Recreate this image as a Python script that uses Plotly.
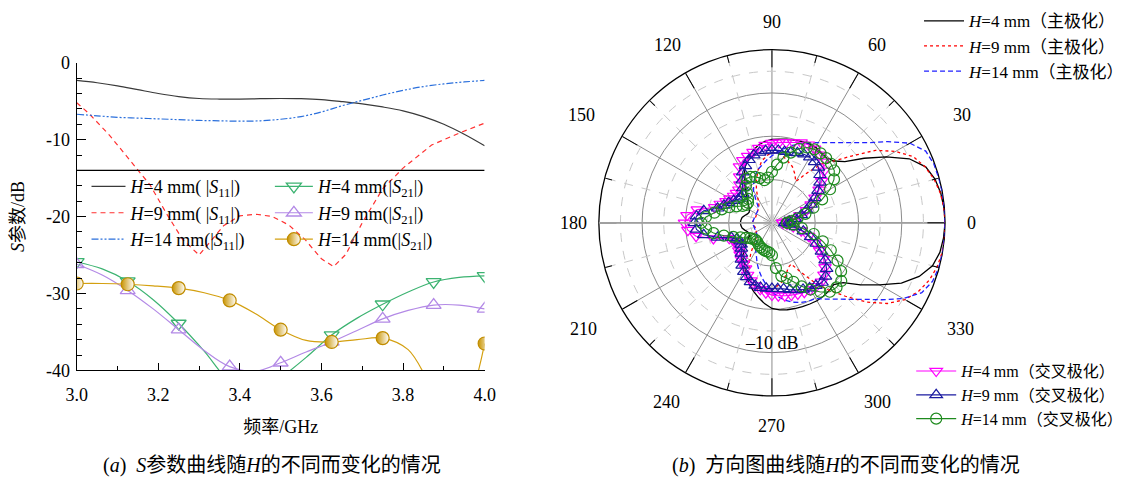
import math
import plotly.graph_objects as go

# ---------------- (a) S-parameter data ----------------
freq = [3.00, 3.05, 3.10, 3.15, 3.20, 3.25, 3.30, 3.35, 3.40, 3.45, 3.50,
        3.55, 3.60, 3.65, 3.70, 3.75, 3.80, 3.85, 3.90, 3.95, 4.00]
s11_h4 = [-2.3, -2.6, -3.0, -3.5, -4.0, -4.4, -4.65, -4.72, -4.72, -4.68, -4.65,
          -4.68, -4.8, -5.05, -5.35, -5.75, -6.25, -7.0, -8.0, -9.3, -10.8]
s11_h14 = [-6.7, -6.9, -7.1, -7.2, -7.3, -7.4, -7.5, -7.55, -7.6, -7.55, -7.35,
           -7.0, -6.4, -5.6, -4.9, -4.2, -3.6, -3.1, -2.75, -2.5, -2.3]
freq_h9 = [3.00, 3.03, 3.08, 3.13, 3.18, 3.22, 3.26, 3.30, 3.32, 3.36, 3.40, 3.44,
           3.48, 3.52, 3.56, 3.60, 3.63, 3.66, 3.70, 3.75, 3.80, 3.87, 3.94, 4.00]
s11_h9 = [-5.2, -6.6, -9.4, -12.6, -15.9, -19.6, -23.0, -25.0, -23.7, -21.2, -19.9, -19.7,
          -20.0, -21.1, -23.0, -25.5, -26.5, -24.9, -20.8, -16.4, -13.7, -10.7, -9.1, -7.85]

freq_s21 = [3.0, 3.0625, 3.125, 3.1875, 3.25, 3.3125, 3.375, 3.4375, 3.5,
            3.5625, 3.625, 3.6875, 3.75, 3.8125, 3.875, 3.9375, 4.0]
s21_h4 = [-25.9, -26.8, -28.4, -30.8, -33.9, -37.5, -41.5, -43.5, -41.0,
          -38.3, -35.4, -33.2, -31.4, -29.8, -28.5, -27.9, -27.7]
s21_h9 = [-26.2, -27.6, -29.6, -32.0, -34.7, -37.4, -39.5, -40.1, -39.0,
          -37.6, -36.3, -34.8, -33.3, -32.2, -31.5, -31.5, -32.0]
s21_h14 = [-28.7, -28.7, -28.8, -29.0, -29.3, -29.9, -30.9, -32.6, -34.7,
           -36.1, -36.3, -36.0, -35.8, -37.3, -42.5, -46.0, -36.5]

x_ticks = [3.0, 3.2, 3.4, 3.6, 3.8, 4.0]
x_ticklabels = ["3.0", "3.2", "3.4", "3.6", "3.8", "4.0"]
y_ticks = [0, -10, -20, -30, -40]
y_ticklabels = ["0", "-10", "-20", "-30", "-40"]
ref_level = -14

# ---------------- (b) radiation pattern data ----------------
angles = [0, 5, 10, 15, 20, 25, 30, 35, 40, 45, 50, 55, 60, 65, 70, 75, 80, 85,
          90, 95, 100, 105, 110, 115, 120, 125, 130, 135, 140, 145, 150, 155, 160, 165, 170, 175,
          180, 185, 190, 195, 200, 205, 210, 215, 220, 225, 230, 235, 240, 245, 250, 255, 260, 265,
          270, 275, 280, 285, 290, 295, 300, 305, 310, 315, 320, 325, 330, 335, 340, 345, 350, 355]

main_h4 = [0, -0.1, -0.4, -1.0, -2.2, -5.0, -9.5, -14.0, -18.0, -19.8, -20.4, -20.2, -19.8, -19.8, -20.0, -20.2, -20.4, -20.6,
           -20.7, -21.1, -21.8, -22.8, -24.0, -25.5, -27.2, -29.0, -30.5, -31.8, -32.8, -33.5, -34.0, -34.2, -34.0, -33.5, -33.0, -32.8,
           -32.7, -32.8, -33.0, -33.5, -34.0, -34.2, -34.0, -33.2, -32.0, -30.8, -29.5, -28.8, -27.7, -26.2, -24.8, -23.6, -22.4, -21.2,
           -20.2, -19.8, -19.6, -19.5, -19.4, -19.3, -19.2, -19.3, -19.5, -19.8, -18.5, -15.0, -11.3, -7.0, -3.8, -1.6, -0.6, -0.2]
main_h9 = [0, -0.1, -0.5, -1.2, -2.3, -3.9, -7.0, -10.8, -16.0, -19.8, -22.3, -26.0, -29.0, -27.5, -26.2, -25.4, -24.5, -23.8,
           -23.8, -24.5, -25.8, -27.5, -29.5, -31.5, -33.5, -34.7, -35.3, -35.5, -35.7, -35.8, -35.8, -36.0, -36.0, -36.0, -35.8, -35.6,
           -35.5, -35.6, -35.8, -36.0, -36.0, -36.0, -35.8, -35.6, -35.3, -34.7, -33.5, -31.5, -29.5, -27.5, -25.8, -24.5, -23.8, -23.8,
           -24.5, -25.4, -26.2, -27.5, -29.0, -29.5, -27.0, -23.5, -19.8, -16.0, -11.5, -7.5, -4.5, -2.6, -1.3, -0.5, -0.1, 0]
main_h14 = [0, 0, 0, -0.1, -0.2, -0.8, -3.2, -7.3, -11.2, -13.8, -15.8, -17.4, -18.6, -19.6, -20.5, -21.5, -22.5, -23.5,
            -24.5, -25.5, -26.5, -27.3, -28.5, -30.0, -31.5, -33.5, -35.0, -35.5, -35.7, -35.8, -35.8, -35.8, -35.8, -35.8, -35.7, -35.6,
            -35.5, -35.6, -35.7, -35.8, -35.8, -35.8, -35.8, -35.7, -35.5, -35.0, -34.5, -33.5, -32.5, -31.5, -30.0, -28.5, -27.0, -25.5,
            -24.0, -22.8, -21.8, -21.0, -20.4, -20.0, -19.8, -18.5, -17.0, -15.0, -12.5, -9.0, -5.0, -1.8, -0.5, -0.1, 0, 0]

cross_h4 = [-37.5, -36.5, -35.0, -33.3, -31.5, -30.0, -28.5, -26.7, -25.0, -23.0, -21.6, -20.8, -20.3, -20.1, -20.3, -20.8, -21.1, -21.4,
            -21.6, -22.0, -22.5, -23.1, -23.6, -24.1, -25.0, -27.0, -28.5, -29.2, -29.3, -29.2, -28.8, -28.3, -27.3, -26.3, -22.5, -20.3,
            -19.8, -20.5, -22.2, -26.0, -29.5, -30.2, -30.7, -30.5, -30.0, -29.6, -29.0, -28.5, -27.8, -26.7, -25.8, -25.0, -24.4, -23.8,
            -23.3, -23.1, -22.9, -22.7, -22.5, -22.3, -22.2, -22.1, -22.2, -23.0, -24.0, -25.5, -27.3, -29.0, -31.0, -33.0, -35.0, -36.5]
cross_h9 = [-37.0, -36.0, -34.5, -33.0, -31.5, -30.0, -28.5, -27.0, -25.5, -24.3, -23.3, -22.8, -22.5, -22.5, -22.8, -23.2, -23.3, -23.2,
            -23.2, -23.3, -23.5, -23.8, -24.5, -25.5, -26.5, -28.0, -29.5, -30.5, -30.8, -30.5, -29.8, -29.0, -28.2, -27.0, -24.0, -22.5,
            -22.1, -22.5, -24.0, -27.0, -30.0, -31.0, -31.5, -31.3, -30.8, -30.0, -29.0, -28.0, -27.0, -26.2, -25.5, -25.0, -24.8, -24.8,
            -24.8, -24.7, -24.5, -24.0, -23.5, -23.0, -22.6, -22.3, -22.0, -22.5, -23.5, -25.0, -26.8, -28.7, -30.5, -32.5, -34.5, -36.0]
cross_h14 = [-36.5, -35.5, -34.0, -32.0, -29.8, -27.2, -24.5, -22.5, -21.2, -20.7, -20.5, -20.4, -20.4, -20.8, -21.8, -23.2, -24.7, -26.5,
             -28.2, -29.5, -30.0, -29.3, -28.7, -28.3, -28.2, -29.5, -31.0, -32.2, -32.8, -32.8, -32.2, -31.0, -29.5, -28.0, -26.5, -24.7,
             -23.7, -24.7, -26.3, -28.5, -30.5, -32.0, -33.0, -33.8, -34.2, -34.5, -34.5, -34.3, -34.0, -33.8, -33.6, -33.4, -33.3, -33.1,
             -32.5, -29.5, -27.5, -26.8, -25.5, -23.8, -22.2, -20.5, -19.2, -18.9, -19.1, -20.5, -22.5, -25.0, -27.5, -30.0, -33.0, -35.0]

theta_major = [0, 30, 60, 90, 120, 150, 180, 210, 240, 270, 300, 330]
theta_labels = ["0", "30", "60", "90", "120", "150", "180", "210", "240", "270", "300", "330"]
theta_minor = [15, 45, 75, 105, 135, 165, 195, 225, 255, 285, 315, 345]
r_major = [-30, -20, -10]
r_minor = [-35, -25, -15, -5]
r_range = [-40, 0]

SERIF = "Liberation Serif, Times New Roman, Noto Sans CJK SC"
W, H = 1134, 483
CX, CY, HALF = 776, 222, 180.6   # polar centre (px) and half-size of its domain box
label_radius = [204, 224, 214, 210, 214, 224, 202, 222, 216, 212, 216, 222]   # px from centre


def closed(seq):
    return list(seq) + [seq[0]]


fig = go.Figure()

# ---- S11 ----
fig.add_trace(go.Scatter(x=freq, y=s11_h4, mode="lines", line=dict(color="#3a3a3a", width=1.2, shape="spline"),
                         name="<i>H</i>=4 mm( |<i>S</i><sub>11</sub>|)", legend="legend"))
fig.add_trace(go.Scatter(x=freq_h9, y=s11_h9, mode="lines", line=dict(color="#ff3030", width=1.2, dash="5px,4px"),
                         name="<i>H</i>=9 mm( |<i>S</i><sub>11</sub>|)", legend="legend"))
fig.add_trace(go.Scatter(x=freq, y=s11_h14, mode="lines",
                         line=dict(color="#2a6fdc", width=1.2, dash="7px,2px,2px,2px,2px,2px", shape="spline"),
                         name="<i>H</i>=14 mm(|<i>S</i><sub>11</sub>|)", legend="legend"))

# ---- S21 (markers shown at every other sample) ----
mark_idx = [i for i in range(len(freq_s21)) if i % 2 == 0]
s21_common = dict(mode="lines+markers", selectedpoints=mark_idx,
                  selected=dict(marker=dict(opacity=1)), unselected=dict(marker=dict(opacity=0)),
                  legend="legend2")
fig.add_trace(go.Scatter(x=freq_s21, y=s21_h4, line=dict(color="#3cb371", width=1.2, shape="spline"),
                         marker=dict(symbol="triangle-down-open", size=13, color="#3cb371", line=dict(width=1.3)),
                         name="<i>H</i>=4 mm(|<i>S</i><sub>21</sub>|)", **s21_common))
fig.add_trace(go.Scatter(x=freq_s21, y=s21_h9, line=dict(color="#b389e6", width=1.2, shape="spline"),
                         marker=dict(symbol="triangle-up-open", size=13, color="#b389e6", line=dict(width=1.3)),
                         name="<i>H</i>=9 mm(|<i>S</i><sub>21</sub>|)", **s21_common))
fig.add_trace(go.Scatter(x=freq_s21, y=s21_h14, line=dict(color="#d4a010", width=1.2, shape="spline"),
                         marker=dict(symbol="circle", size=13, color="#c99400",
                                     gradient=dict(type="horizontal", color="#ffffff"),
                                     line=dict(width=1.2, color="#c08c00")),
                         name="<i>H</i>=14 mm(|<i>S</i><sub>21</sub>|)", **s21_common))

# ---- polar base subplot (grid) ----
fig.add_trace(go.Scatterpolar(r=[], theta=[], subplot="polar", showlegend=False, hoverinfo="skip"))

# ---- polar: main polarisation ----
fig.add_trace(go.Scatterpolar(r=closed(main_h4), theta=closed(angles), mode="lines",
                              line=dict(color="#000000", width=1.3), subplot="polar2",
                              name="<i>H</i>=4 mm（主极化）", legend="legend3"))
fig.add_trace(go.Scatterpolar(r=closed(main_h9), theta=closed(angles), mode="lines",
                              line=dict(color="#ff0000", width=1.3, dash="dot"), subplot="polar2",
                              name="<i>H</i>=9 mm（主极化）", legend="legend3"))
fig.add_trace(go.Scatterpolar(r=closed(main_h14), theta=closed(angles), mode="lines",
                              line=dict(color="#2020ff", width=1.3, dash="5px,3px"), subplot="polar2",
                              name="<i>H</i>=14 mm（主极化）", legend="legend3"))
# ---- polar: cross polarisation ----
fig.add_trace(go.Scatterpolar(r=closed(cross_h4), theta=closed(angles), mode="lines+markers",
                              line=dict(color="#ff00ff", width=1.1),
                              marker=dict(symbol="triangle-down-open", size=11, color="#ff00ff", line=dict(width=1.2)),
                              subplot="polar2", name="<i>H</i>=4 mm（交叉极化）", legend="legend4"))
fig.add_trace(go.Scatterpolar(r=closed(cross_h9), theta=closed(angles), mode="lines+markers",
                              line=dict(color="#1a1aa0", width=1.1),
                              marker=dict(symbol="triangle-up-open", size=11, color="#1a1aa0", line=dict(width=1.2)),
                              subplot="polar2", name="<i>H</i>=9 mm（交叉极化）", legend="legend4"))
fig.add_trace(go.Scatterpolar(r=closed(cross_h14), theta=closed(angles), mode="lines+markers",
                              line=dict(color="#1e8a1e", width=1.1),
                              marker=dict(symbol="circle-open", size=11, color="#1e8a1e", line=dict(width=1.2)),
                              subplot="polar2", name="<i>H</i>=14 mm（交叉极化）", legend="legend4"))

# reference line in panel (a)
fig.add_shape(type="line", xref="x", yref="y", x0=freq[0], x1=freq[-1], y0=ref_level, y1=ref_level,
              line=dict(color="black", width=1.3))

pdom_x = [(CX - HALF) / W, (CX + HALF) / W]
pdom_y = [(H - (CY + HALF)) / H, (H - (CY - HALF)) / H]

# angular labels placed further out than plotly's default
ang_annots = []
for th, lab, rl in zip(theta_major, theta_labels, label_radius):
    rad = math.radians(th)
    ang_annots.append(dict(text=lab, x=(CX + rl * math.cos(rad)) / W, y=1 - (CY - rl * math.sin(rad)) / H,
                           xref="paper", yref="paper", showarrow=False, font=dict(size=18),
                           xanchor="center", yanchor="middle"))

fig.update_layout(
    width=W, height=H, margin=dict(l=0, r=0, t=0, b=0),
    paper_bgcolor="white", plot_bgcolor="white",
    font=dict(family=SERIF, size=18, color="black"),
    xaxis=dict(domain=[67 / W, 483 / W], range=[3.0, 4.0], tickvals=x_ticks, ticktext=x_ticklabels,
               showline=True, linecolor="black", linewidth=1.3, ticks="inside", ticklen=7, tickcolor="black",
               minor=dict(dtick=0.1, ticks="inside", ticklen=4, tickcolor="black"),
               showgrid=False, zeroline=False, tickfont=dict(size=18), ticklabelstandoff=8,
               title=dict(text="频率/GHz", font=dict(size=18), standoff=16)),
    yaxis=dict(domain=[(H - 376) / H, (H - 55) / H], range=[-40, 0], tickvals=y_ticks, ticktext=y_ticklabels,
               showline=True, linecolor="black", linewidth=1.3, ticks="inside", ticklen=9, tickcolor="black",
               minor=dict(dtick=2, ticks="inside", ticklen=5, tickcolor="black"),
               showgrid=False, zeroline=False, tickfont=dict(size=18), ticklabelstandoff=2,
               title=dict(text="<i>S</i>参数/dB", font=dict(size=18), standoff=16)),
    polar=dict(
        domain=dict(x=pdom_x, y=pdom_y), bgcolor="white",
        radialaxis=dict(range=r_range, tickvals=r_major, showticklabels=False, ticks="",
                        showgrid=True, gridcolor="#8c8c8c", gridwidth=1,
                        showline=True, linecolor="#a0a0a0", linewidth=1.8, angle=0),
        angularaxis=dict(rotation=0, direction="counterclockwise", tickvals=theta_major, showticklabels=False,
                         ticks="inside", ticklen=17, tickcolor="black", tickwidth=1.3,
                         showgrid=True, gridcolor="#8c8c8c", gridwidth=1,
                         showline=True, linecolor="black", linewidth=1.3)),
    polar2=dict(
        domain=dict(x=pdom_x, y=pdom_y), bgcolor="rgba(0,0,0,0)",
        radialaxis=dict(range=r_range, tickvals=r_minor, showticklabels=False, ticks="",
                        showgrid=True, gridcolor="#c8c8c8", gridwidth=1, griddash="dash",
                        showline=True, linecolor="#a0a0a0", linewidth=1.8, angle=180),
        angularaxis=dict(rotation=0, direction="counterclockwise", tickvals=theta_minor, showticklabels=False,
                         ticks="inside", ticklen=7, tickcolor="black", tickwidth=1.2,
                         showgrid=True, gridcolor="#c8c8c8", gridwidth=1, griddash="dash",
                         showline=False)),
    legend=dict(x=77 / W, y=1 - 165 / H, xanchor="left", yanchor="top", bgcolor="rgba(0,0,0,0)",
                font=dict(size=18), itemwidth=34, tracegroupgap=0),
    legend2=dict(x=264 / W, y=1 - 165 / H, xanchor="left", yanchor="top", bgcolor="rgba(0,0,0,0)",
                 font=dict(size=18), itemwidth=38, tracegroupgap=0),
    legend3=dict(x=926 / W, y=1 + 7 / H, xanchor="left", yanchor="top", bgcolor="rgba(0,0,0,0)",
                 font=dict(size=17), itemwidth=40, tracegroupgap=0),
    legend4=dict(x=918 / W, y=1 - 359 / H, xanchor="left", yanchor="top", bgcolor="rgba(0,0,0,0)",
                 font=dict(size=16), itemwidth=40, tracegroupgap=0),
    annotations=ang_annots + [
        dict(text="–10 dB", x=CX / W, y=1 - 347 / H, xref="paper", yref="paper", showarrow=False,
             font=dict(size=18), xanchor="center", yanchor="middle"),
        dict(text="(<i>a</i>)  <i>S</i>参数曲线随<i>H</i>的不同而变化的情况", x=266 / W, y=1 - 475 / H,
             xref="paper", yref="paper", showarrow=False, font=dict(size=20), xanchor="center", yanchor="middle"),
        dict(text="(<i>b</i>)  方向图曲线随<i>H</i>的不同而变化的情况", x=852 / W, y=1 - 475 / H,
             xref="paper", yref="paper", showarrow=False, font=dict(size=20), xanchor="center", yanchor="middle"),
    ],
)

fig.write_html("out.html")
